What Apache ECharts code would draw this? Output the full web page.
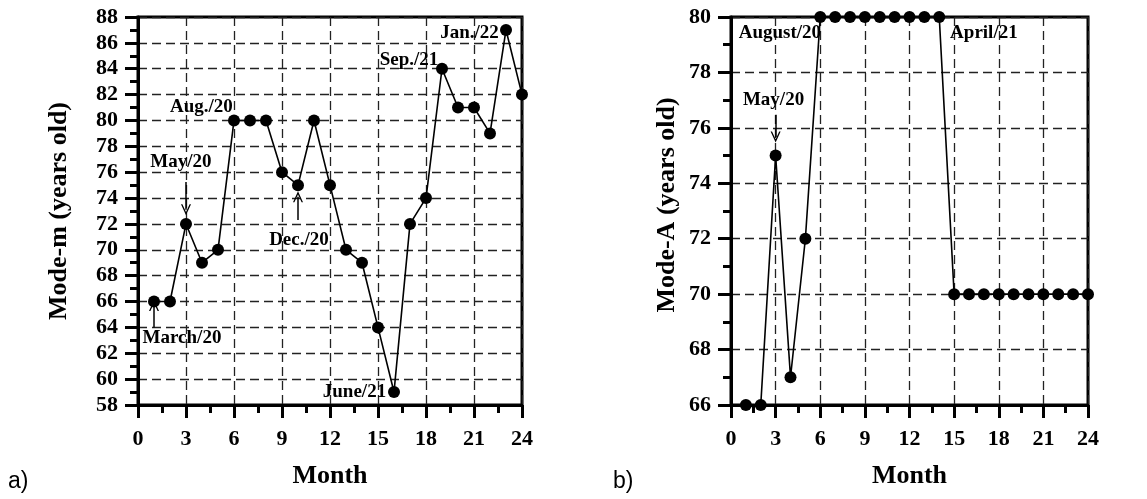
<!DOCTYPE html>
<html>
<head>
<meta charset="utf-8">
<script src="https://cdn.jsdelivr.net/npm/echarts@6/dist/echarts.min.js"></script>
<style>
html,body{margin:0;padding:0;background:#fff;}
#c{width:1147px;height:499px;}
</style>
</head>
<body>
<div id="c"></div>
<script>
// ---- data ----
var months = [1,2,3,4,5,6,7,8,9,10,11,12,13,14,15,16,17,18,19,20,21,22,23,24];
var modeM = [66,66,72,69,70,80,80,80,76,75,80,75,70,69,64,59,72,74,84,81,81,79,87,82];
var modeA = [66,66,75,67,72,80,80,80,80,80,80,80,80,80,70,70,70,70,70,70,70,70,70,70];

// annotation text anchors [x, y, text] (data units)
var notesM = [
  [2.75, 63.2, 'March/20'],
  [2.68, 76.8, 'May/20'],
  [3.96, 81.05, 'Aug./20'],
  [10.06, 70.76, 'Dec./20'],
  [16.94, 84.68, 'Sep./21'],
  [20.72, 86.77, 'Jan./22'],
  [13.53, 59.0, 'June/21']
];
var notesA = [
  [3.29, 79.42, 'August/20'],
  [17.0, 79.42, 'April/21'],
  [2.86, 77.0, 'May/20']
];
// arrows [x, yFrom, yTo] (data units)
var arrowsM = [[1, 64.0, 65.7], [3, 75.25, 73.1], [10, 72.3, 74.1]];
var arrowsA = [[3, 76.47, 75.67]];

var serif = 'Liberation Serif';
var chev = 'path://M0,10 L5,0 L10,10 L8.6,10 L5,3 L1.4,10 Z';

function xAxis(gi){
  return {
    type:'value', gridIndex:gi, min:0, max:24, interval:3,
    axisLine:{show:true, onZero:false, lineStyle:{color:'#000', width:3}},
    axisTick:{show:true, length:13, lineStyle:{color:'#000', width:3}},
    minorTick:{show:true, splitNumber:2, length:8, lineStyle:{color:'#000', width:3}},
    axisLabel:{color:'#000', fontFamily:serif, fontWeight:'bold', fontSize:22, margin:23},
    splitLine:{show:true, lineStyle:{color:'#222', width:1.3, type:[9,5]}},
    name:'Month', nameLocation:'middle', nameGap:58,
    nameTextStyle:{color:'#000', fontFamily:serif, fontWeight:'bold', fontSize:26}
  };
}
function yAxis(gi, mn, mx, name, gap, shift){
  return {
    type:'value', gridIndex:gi, min:mn, max:mx, interval:2,
    axisLine:{show:true, onZero:false, lineStyle:{color:'#000', width:3}},
    axisTick:{show:true, length:13, lineStyle:{color:'#000', width:3}},
    minorTick:{show:true, splitNumber:2, length:8, lineStyle:{color:'#000', width:3}},
    axisLabel:{color:'#000', fontFamily:serif, fontWeight:'bold', fontSize:22, margin:20},
    splitLine:{show:true, lineStyle:{color:'#222', width:1.3, type:[9,5]}},
    name:name, nameLocation:'middle', nameGap:gap, nameRotate:90,
    nameTextStyle:{color:'#000', fontFamily:serif, fontWeight:'bold', fontSize:26, padding:[0, 0, 0, shift]}
  };
}
function lineSeries(gi, vals){
  return {
    type:'line', xAxisIndex:gi, yAxisIndex:gi, clip:false,
    data: months.map(function(m,i){return [m, vals[i]];}),
    symbol:'circle', symbolSize:12,
    itemStyle:{color:'#000', opacity:1}, lineStyle:{color:'#000', width:1.6},
    z:5
  };
}
function noteSeries(gi, notes, arrows){
  return {
    type:'scatter', xAxisIndex:gi, yAxisIndex:gi, symbolSize:0, silent:true,
    itemStyle:{color:'#000', opacity:1},
    data: notes.map(function(n){return {value:[n[0], n[1]], name:n[2]};}),
    label:{show:true, position:'inside', formatter:function(p){return p.name;},
      color:'#000', opacity:1, fontFamily:serif, fontWeight:'bold', fontSize:19},
    markLine:{
      silent:true, animation:false,
      symbol:['none', chev], symbolSize:[10,11],
      label:{show:false},
      itemStyle:{color:'#000', opacity:1},
      lineStyle:{color:'#000', width:1.5, type:'solid', opacity:1},
      data: arrows.map(function(a){return [{coord:[a[0], a[1]]}, {coord:[a[0], a[2]]}];})
    },
    z:6
  };
}

var chart = echarts.init(document.getElementById('c'));
chart.setOption({
  animation:false,
  backgroundColor:'#fff',
  grid:[
    {left:138, right:625, top:17, bottom:94, show:true, borderColor:'#000', borderWidth:3, backgroundColor:'transparent'},
    {left:731, right:59, top:17, bottom:94, show:true, borderColor:'#000', borderWidth:3, backgroundColor:'transparent'}
  ],
  xAxis:[xAxis(0), xAxis(1)],
  yAxis:[yAxis(0, 58, 88, 'Mode-m (years old)', 66, 0), yAxis(1, 66, 80, 'Mode-A (years old)', 51, 12)],
  graphic:[
    {type:'text', left:8, top:470, style:{text:'a)', fontFamily:'Liberation Sans', fontSize:23, fill:'#000'}},
    {type:'text', left:613, top:470, style:{text:'b)', fontFamily:'Liberation Sans', fontSize:23, fill:'#000'}}
  ],
  series:[
    lineSeries(0, modeM), lineSeries(1, modeA),
    noteSeries(0, notesM, arrowsM), noteSeries(1, notesA, arrowsA)
  ]
});
</script>
</body>
</html>
